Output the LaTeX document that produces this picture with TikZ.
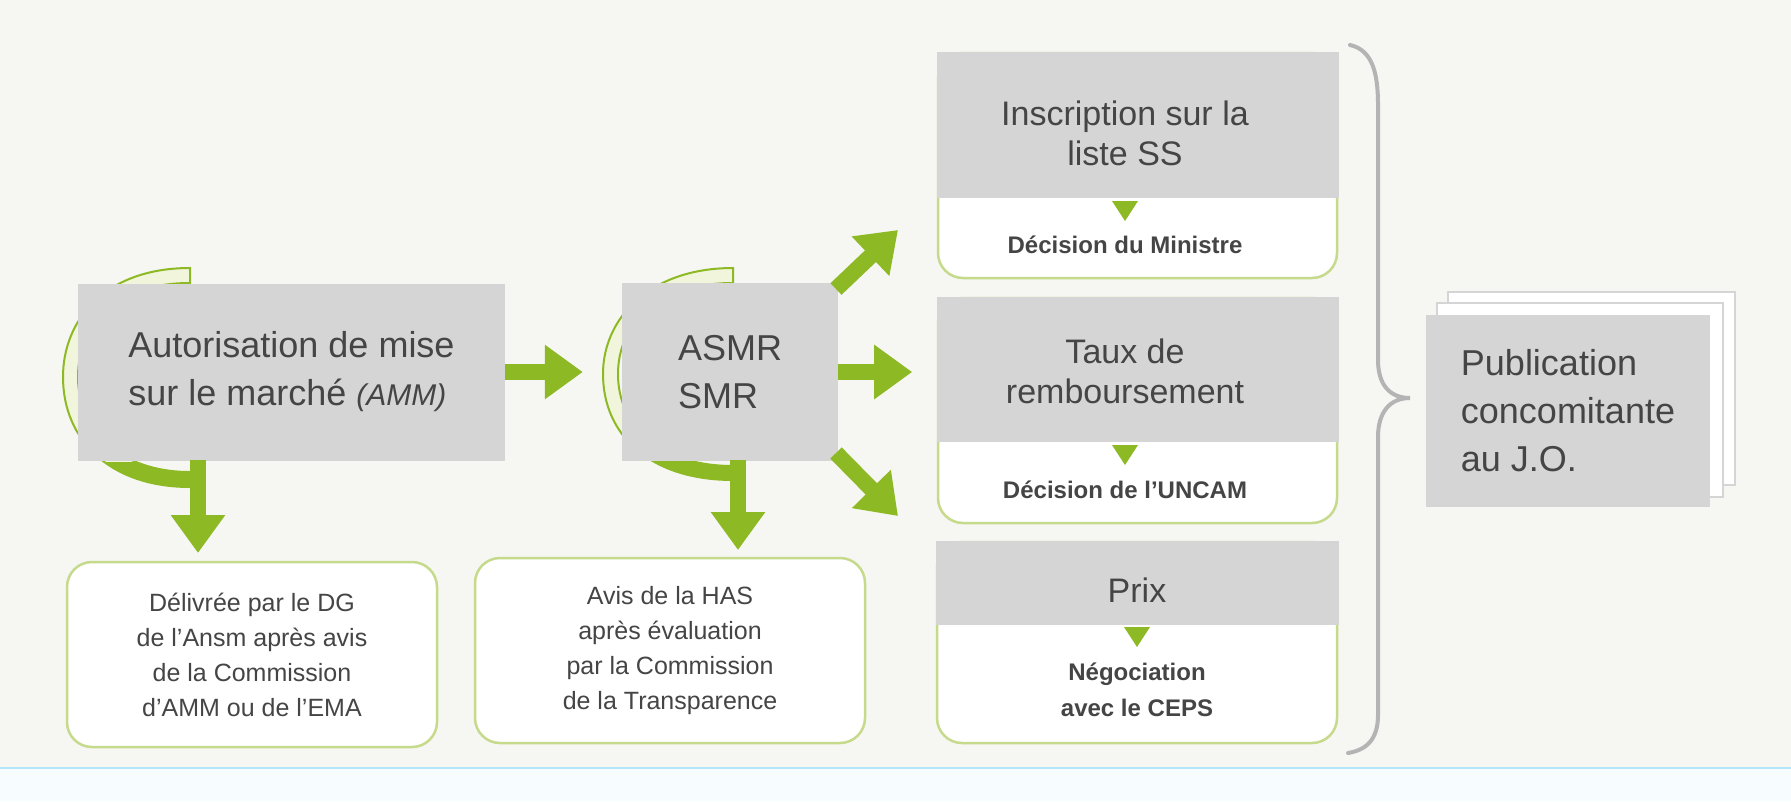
\documentclass[tikz,border=0pt]{standalone}
\usepackage{fontspec}
\setmainfont{Liberation Sans}
\usetikzlibrary{arrows.meta,calc}
\definecolor{bg}{HTML}{F6F6F2}
\definecolor{gr}{HTML}{D5D5D5}
\definecolor{txt}{HTML}{454545}
\definecolor{arr}{HTML}{8DB924}
\definecolor{bord}{HTML}{C6DA8C}
\definecolor{cres}{HTML}{F1F5DC}
\definecolor{brace}{HTML}{B4B4B4}
\tikzset{
  graybox/.style={fill=gr, text=txt, align=left, inner sep=0pt},
  outbox/.style={draw=bord, line width=2.5pt, fill=white, rounded corners=25pt, text=txt, align=center, inner sep=0pt},
  bigarrow/.style={draw=arr, line width=16pt, -{Triangle[width=52pt,length=38pt]}},
  tri/.style={fill=arr},
  bigtxt/.style={font=\fontsize{36}{48}\selectfont},
  midtxt/.style={font=\fontsize{34}{40}\selectfont},
  smltxt/.style={font=\fontsize{25}{35}\selectfont},
  boldtxt/.style={font=\fontsize{24}{36}\selectfont\bfseries}
}
\begin{document}
\begin{tikzpicture}[x=1pt,y=-1pt]
\useasboundingbox (0,0) rectangle (1791,801);
\fill[bg] (0,0) rectangle (1791,801);
\fill[white!60!cyan!8] (0,768) rectangle (1791,801);
\draw[cyan!30, line width=2pt] (0,768) -- (1791,768);

% crescents
\filldraw[fill=cres, draw=arr, line width=2pt] (190,268) .. controls (105,268) and (63,320) .. (63,377) .. controls (63,440) and (110,487) .. (190,487) -- (190,472) .. controls (120,472) and (78,430) .. (78,377) .. controls (78,325) and (115,283) .. (190,283) -- cycle;
\begin{scope}
\clip (0,462) rectangle (300,500);
\fill[arr] (190,268) .. controls (105,268) and (63,320) .. (63,377) .. controls (63,440) and (110,487) .. (190,487) -- (190,472) .. controls (120,472) and (78,430) .. (78,377) .. controls (78,325) and (115,283) .. (190,283) -- cycle;
\end{scope}
\filldraw[fill=cres, draw=arr, line width=2pt] (733,268) .. controls (650,268) and (603,318) .. (603,374) .. controls (603,435) and (650,480) .. (733,480) -- (733,466) .. controls (662,466) and (618,428) .. (618,374) .. controls (618,322) and (660,283) .. (733,283) -- cycle;
\begin{scope}
\clip (560,460) rectangle (800,500);
\fill[arr] (733,268) .. controls (650,268) and (603,318) .. (603,374) .. controls (603,435) and (650,480) .. (733,480) -- (733,466) .. controls (662,466) and (618,428) .. (618,374) .. controls (618,322) and (660,283) .. (733,283) -- cycle;
\end{scope}

% main gray boxes
\node[graybox, bigtxt, minimum width=427pt, minimum height=177pt] (amm) at (291.5,372) {Autorisation de mise\\sur le marché {\itshape\fontsize{30}{40}\selectfont (AMM)}};
\node[graybox, bigtxt, minimum width=216pt, minimum height=178pt] (asmr) at (730,372) {ASMR\\SMR};

% bottom boxes
\node[outbox, smltxt, minimum width=370pt, minimum height=185pt] (deliv) at (252,654.5) {Délivrée par le DG\\de l'Ansm après avis\\de la Commission\\d'AMM ou de l'EMA};
\node[outbox, smltxt, minimum width=390pt, minimum height=185pt] (avis) at (670,650.5) {Avis de la HAS\\après évaluation\\par la Commission\\de la Transparence};

% right column
\node[outbox, minimum width=399pt, minimum height=225pt] (ins) at (1137.5,165.5) {};
\fill[gr] (936.5,51.5) rectangle (1338.5,198);
\node[text=txt, midtxt, align=center] (inst) at (1125,133) {Inscription sur la\\liste SS};
\node[text=txt, boldtxt] (insd) at (1125,245) {Décision du Ministre};
\fill[tri] (1112,201) -- (1138,201) -- (1125,221) -- cycle;

\node[outbox, minimum width=399pt, minimum height=225pt] (taux) at (1137.5,410.5) {};
\fill[gr] (936.5,296.5) rectangle (1338.5,442);
\node[text=txt, midtxt, align=center] (tauxt) at (1125,371) {Taux de\\remboursement};
\node[text=txt, boldtxt] (tauxd) at (1125,490) {Décision de l'UNCAM};
\fill[tri] (1112,445) -- (1138,445) -- (1125,465) -- cycle;

\node[outbox, minimum width=400pt, minimum height=201pt] (prix) at (1137,642.5) {};
\fill[gr] (935.5,540.5) rectangle (1338.5,625);
\node[text=txt, midtxt] (prixt) at (1137,590) {Prix};
\node[text=txt, boldtxt, align=center] (prixd) at (1137,690) {Négociation\\avec le CEPS};
\fill[tri] (1124,627) -- (1150,627) -- (1137,647) -- cycle;

% brace
\draw[brace, line width=4pt, line cap=round] (1350,45) .. controls (1372,50) and (1378,72) .. (1378,105) -- (1378,360) .. controls (1378,385) and (1390,398) .. (1410,398) .. controls (1390,398) and (1378,412) .. (1378,437) -- (1378,715) .. controls (1378,740) and (1366,750) .. (1348,753);

% publication stack
\filldraw[fill=white, draw=gr, line width=1.5pt] (1448,292) rectangle (1735,485);
\filldraw[fill=white, draw=gr, line width=1.5pt] (1437,303) rectangle (1723,497);
\node[graybox, bigtxt, minimum width=284pt, minimum height=192pt] (pub) at (1568,411) {Publication\\concomitante\\au J.O.};

% arrows
\coordinate (a1) at (198,460);
\coordinate (a1e) at (198,553);
\coordinate (a2) at (738,460);
\coordinate (a2e) at (738,550);
\draw[bigarrow] (amm.east) -- ($(asmr.west)+(-39,0)$);
\draw[bigarrow] (a1) -- (a1e);
\draw[bigarrow] (a2) -- (a2e);
\coordinate (u1) at (836,289);
\coordinate (u1e) at (898,230);
\coordinate (d1) at (836,453);
\coordinate (d1e) at (898,516);
\draw[bigarrow] (asmr.east) -- ($(asmr.east)+(74,0)$);
\draw[bigarrow] (u1) -- (u1e);
\draw[bigarrow] (d1) -- (d1e);
\end{tikzpicture}
\end{document}
